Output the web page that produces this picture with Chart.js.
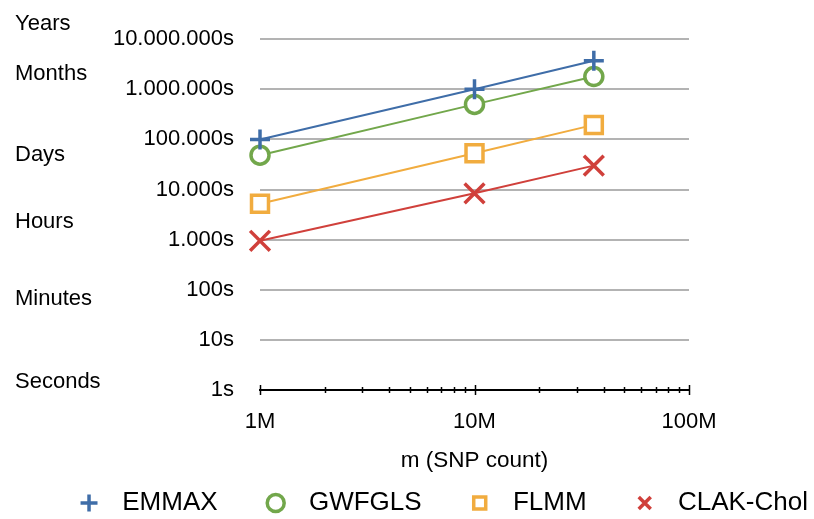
<!DOCTYPE html>
<html>
<head>
<meta charset="utf-8">
<script src="https://cdn.jsdelivr.net/npm/chart.js@4.4.1/dist/chart.umd.min.js"></script>
<style>
  html, body { margin: 0; padding: 0; background: #fff; overflow: hidden; }
  .chart-box { width: 814px; height: 519px; position: relative; }
</style>
</head>
<body>
<div class="chart-box"><canvas id="chart"></canvas></div>
<script>
// data
const snpCounts = [1e6, 1e7, 3.6e7];
const emmax = [1.0e5, 1.0e6, 3.7e6];
const gwfgls = [4.85e4, 5.0e5, 1.8e6];
const flmm = [5.2e3, 5.3e4, 1.95e5];
const clakChol = [950, 8.4e3, 3.0e4];
const seriesNames = ["EMMAX", "GWFGLS", "FLMM", "CLAK-Chol"];
// time hints on the far left, placed at these seconds on the y scale
const timeLabels = ["Years", "Months", "Days", "Hours", "Minutes", "Seconds"];
const timeLabelAt = [2.0e7, 2.0e6, 4.8e4, 2.3e3, 65, 1.45];

const FONT = "'Liberation Sans', Arial, sans-serif";
Chart.defaults.font.family = FONT;
Chart.defaults.color = "#000";

const isPow10 = (v) => Math.abs(Math.log10(v) - Math.round(Math.log10(v))) < 1e-9;
const isWholeMantissa = (v) => {
  const m = v / Math.pow(10, Math.floor(Math.log10(v) + 1e-9));
  return Math.abs(m - Math.round(m)) < 1e-9;
};
const dots = (v) => String(Math.round(v)).replace(/\B(?=(\d{3})+(?!\d))/g, ".");
const points = (ys) => snpCounts.map((x, i) => ({ x: x, y: ys[i] }));

// left side labels Years / Months / ...
const timeHints = {
  id: "timeHints",
  afterDraw(chart) {
    const { ctx } = chart;
    const y = chart.scales.y;
    ctx.save();
    ctx.font = "22px " + FONT;
    ctx.fillStyle = "#000";
    ctx.textAlign = "left";
    ctx.textBaseline = "middle";
    timeLabels.forEach((t, i) => ctx.fillText(t, 15, y.getPixelForValue(timeLabelAt[i])));
    ctx.restore();
  },
};

// small tick marks crossing the x axis line
const axisTicks = {
  id: "axisTicks",
  afterDraw(chart) {
    const { ctx } = chart;
    const x = chart.scales.x;
    const yb = chart.chartArea.bottom;
    ctx.save();
    ctx.strokeStyle = "#000";
    ctx.lineWidth = 1.5;
    for (const t of x.ticks) {
      const px = Math.round(x.getPixelForValue(t.value)) + 0.5;
      const len = isPow10(t.value) ? 5 : 3;
      ctx.beginPath();
      ctx.moveTo(px, yb - len);
      ctx.lineTo(px, yb + len);
      ctx.stroke();
    }
    ctx.restore();
  },
};

const colors = ["#3f6da8", "#72a74b", "#f1ac3f", "#d0403b"];
const styles = ["cross", "circle", "rect", "crossRot"];
const radii = [10, 9, 12, 14];
const values = [emmax, gwfgls, flmm, clakChol];

new Chart(document.getElementById("chart"), {
  type: "line",
  data: {
    datasets: seriesNames.map((name, i) => ({
      label: name,
      data: points(values[i]),
      borderColor: colors[i],
      borderWidth: 2,
      pointStyle: styles[i],
      pointRadius: radii[i],
      pointBorderWidth: 3.5,
      pointBorderColor: colors[i],
      pointBackgroundColor: "#fff",
      clip: false,
    })),
  },
  plugins: [timeHints, axisTicks],
  options: {
    responsive: true,
    maintainAspectRatio: false,
    animation: false,
    layout: { padding: { left: 0, right: -3, top: 39, bottom: -7 } },
    scales: {
      x: {
        type: "logarithmic",
        min: 1e6,
        max: 1e8,
        afterBuildTicks: (s) => { s.ticks = s.ticks.filter((t) => isWholeMantissa(t.value)); },
        afterFit: (s) => { s.height = 91; },
        grid: { display: true, drawOnChartArea: false, drawTicks: false },
        border: { display: true, color: "#000", width: 2 },
        ticks: {
          autoSkip: false,
          maxRotation: 0,
          padding: 19,
          font: { size: 22 },
          callback: (v) => (isPow10(v) ? v / 1e6 + "M" : ""),
        },
        title: {
          display: true,
          text: "m (SNP count)",
          font: { size: 22.5 },
          padding: { top: 4, bottom: 7 },
        },
      },
      y: {
        type: "logarithmic",
        min: 1,
        max: 1e7,
        afterBuildTicks: (s) => { s.ticks = s.ticks.filter((t) => isPow10(t.value)); },
        afterFit: (s) => { s.width = 260; },
        grid: {
          drawTicks: false,
          lineWidth: 2,
          color: (c) => (c.tick && c.tick.value === 1 ? "rgba(0,0,0,0)" : "#b3b3b3"),
        },
        border: { display: false },
        ticks: {
          padding: 26,
          font: { size: 22 },
          callback: (v) => dots(v) + "s",
        },
      },
      yRight: {
        type: "linear",
        position: "right",
        display: true,
        afterFit: (s) => { s.width = 128; },
        grid: { display: false },
        border: { display: false },
        ticks: { display: false },
      },
    },
    plugins: {
      tooltip: { enabled: false },
      legend: {
        position: "bottom",
        align: "end",
        labels: {
          usePointStyle: true,
          boxWidth: 26,
          boxHeight: 12,
          padding: 9,
          font: { size: 26 },
          generateLabels: (chart) => {
            const items = Chart.defaults.plugins.legend.labels.generateLabels(chart);
            return items.map((it, i) => {
              it.text = " " + it.text + (i < items.length - 1 ? "     " : "");
              return it;
            });
          },
        },
      },
    },
  },
});
</script>
</body>
</html>
